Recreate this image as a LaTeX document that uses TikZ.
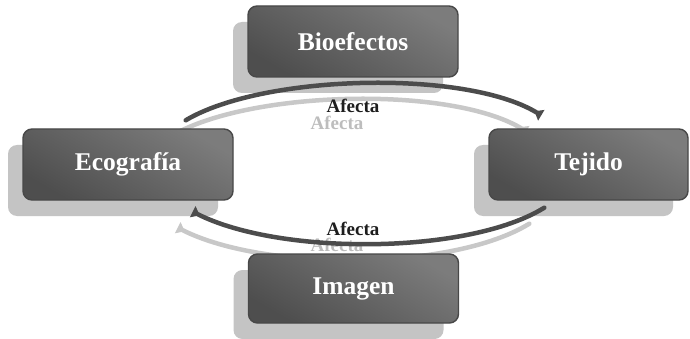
\documentclass[tikz,border=0pt]{standalone}
\usepackage{fontspec}
\setmainfont{Liberation Serif}
\usetikzlibrary{calc,shadows,arrows.meta}
\pgfdeclarelayer{bg}
\pgfsetlayers{bg,main}
\definecolor{boxtop}{HTML}{7C7C7C}
\definecolor{boxbot}{HTML}{4E4E4E}
\definecolor{boxline}{HTML}{484848}
\definecolor{shadowgray}{HTML}{C4C4C4}
\definecolor{arcdark}{HTML}{4C4C4C}
\definecolor{arclight}{HTML}{C8C8C8}
\definecolor{labdark}{HTML}{1E1E1E}
\definecolor{lablight}{HTML}{BDBDBD}
\begin{document}
\begin{tikzpicture}[x=1pt,y=-1pt,
  box/.style={rectangle, rounded corners=9pt, minimum width=210pt, minimum height=71pt,
    inner sep=0pt, draw=boxline, line width=1.4pt, top color=boxtop, bottom color=boxbot,
    shading angle=-30, text=white, font=\fontsize{25.5}{30}\selectfont\bfseries,
    drop shadow={shadow xshift=-15pt, shadow yshift=-16pt, fill=shadowgray, opacity=1}},
  darkarc/.style={draw=arcdark, line width=4.5pt, line cap=round},
  lightarc/.style={draw=arclight, line width=4.5pt, line cap=round},
  flare/.style={-{Triangle[reversed,length=8pt,width=12pt]}},
  labd/.style={font=\fontsize{19}{22}\selectfont\bfseries, text=labdark, anchor=base, inner sep=0pt},
  labl/.style={font=\fontsize{19}{22}\selectfont\bfseries, text=lablight, anchor=base, inner sep=0pt}
]
\useasboundingbox (0,0) rectangle (690,339);

% boxes
\node[box] (bio) at (353,41.5) {Bioefectos};
\node[box] (eco) at (128,164.5) {Ecografía};
\node[box, minimum width=199pt] (tej) at (588.5,164.5) {Tejido};
\node[box, minimum height=69pt] (ima) at (353.5,288.5) {Imagen};

% arc points
\coordinate (ua) at ($(eco.north east)+(-48,-8)$);
\coordinate (uc1) at ($(eco.north east)+(29,-54)$);
\coordinate (uc2) at ($(tej.north west)+(-24,-59)$);
\coordinate (ub) at ($(tej.north west)+(53,-13)$);
\coordinate (la) at ($(tej.south west)+(56,7)$);
\coordinate (lc1) at ($(tej.south west)+(-20,54)$);
\coordinate (lc2) at ($(eco.south east)+(47,55)$);
\coordinate (lb) at ($(eco.south east)+(-41,11)$);

% shadows of connectors and labels
\begin{pgfonlayer}{bg}
  \fill[white] (0,0) rectangle (690,339);
  \draw[lightarc, flare] ($(ua)+(-15,16)$) .. controls ($(uc1)+(-15,16)$) and ($(uc2)+(-15,16)$) .. ($(ub)+(-15,16)$);
  \draw[lightarc, flare] ($(la)+(-15,16)$) .. controls ($(lc1)+(-15,16)$) and ($(lc2)+(-15,16)$) .. ($(lb)+(-15,16)$);
  \node[labl] (l1s) at (337,130) {Afecta};
  \node[labl] (l2s) at (337,251) {Afecta};
\end{pgfonlayer}

% connectors
\draw[darkarc, flare] (ua) .. controls (uc1) and (uc2) .. (ub);
\draw[darkarc, flare] (la) .. controls (lc1) and (lc2) .. (lb);
\node[labd] (l1) at (353,113) {Afecta};
\node[labd] (l2) at (353,235) {Afecta};
\end{tikzpicture}
\end{document}
